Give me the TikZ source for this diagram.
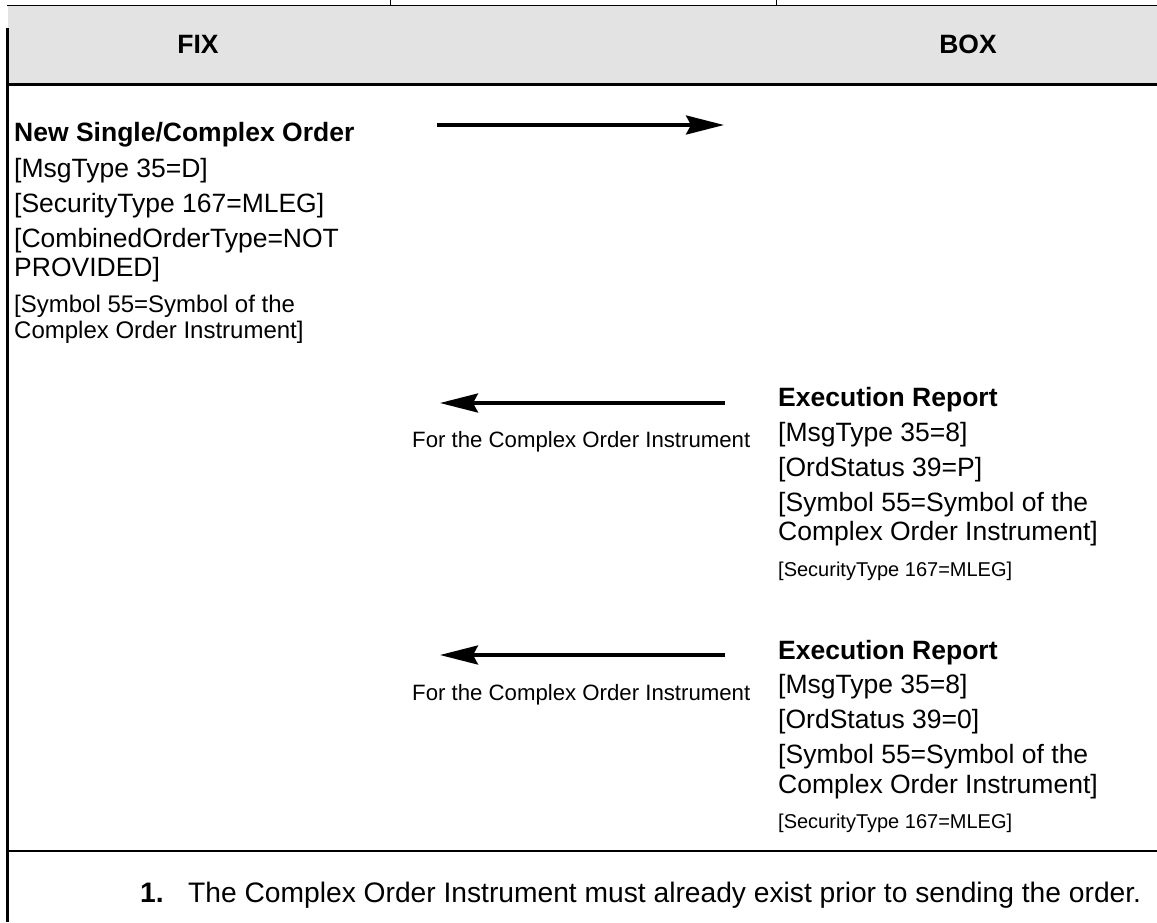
\documentclass[tikz,border=0pt]{standalone}
\usepackage{fontspec}
\setmainfont{Liberation Sans}
\usetikzlibrary{arrows.meta}
\definecolor{hdrgray}{HTML}{E3E3E3}
\begin{document}
\begin{tikzpicture}[x=1pt,y=-1pt,
  txt/.style={anchor=base west, inner sep=0pt, font=\fontsize{26.5}{30}\selectfont},
  txtb/.style={txt, font=\fontsize{26.5}{30}\selectfont\bfseries},
  txtm/.style={txt, font=\fontsize{24}{27}\selectfont},
  txts/.style={txt, font=\fontsize{20}{23}\selectfont},
  note/.style={anchor=base west, inner sep=0pt, font=\fontsize{22.2}{25}\selectfont},
  fnote/.style={anchor=base west, inner sep=0pt, font=\fontsize{28.2}{32}\selectfont},
  hdr/.style={anchor=base, inner sep=0pt, font=\fontsize{26.5}{30}\selectfont\bfseries},
  msgarrow/.style={line width=3.5pt, -{Stealth[length=38pt,width=19pt,inset=5pt]}},
  rule/.style={line width=2.3pt},
]
\useasboundingbox (0,0) rectangle (1157,922);
% header
\fill[hdrgray] (8,5.5) rectangle (1157,84);
\draw[line width=1.3pt] (7,5.5) -- (1157,5.5);
\draw[line width=0.6pt] (390,0) -- (390,5.5);
\draw[line width=0.6pt] (776,0) -- (776,5.5);
\draw[rule] (7.5,28) -- (7.5,922);
\draw[line width=2.8pt] (6.5,84.5) -- (1157,84.5);
\draw[rule] (6.5,851) -- (1157,851);
\node[hdr] (fix) at (198,53) {FIX};
\node[hdr] (box) at (968,53) {BOX};
% left block
\node[txtb] (nso) at (14,141) {New Single/Complex Order};
\node[txt] (l1) at (14,177) {[MsgType 35=D]};
\node[txt] (l2) at (14,212) {[SecurityType 167=MLEG]};
\node[txt] (l3) at (14,247) {[CombinedOrderType=NOT};
\node[txt] (l4) at (14,276) {PROVIDED]};
\node[txtm] (l5) at (14,312) {[Symbol 55=Symbol of the};
\node[txtm] (l6) at (14,338) {Complex Order Instrument]};
% arrow 1
\coordinate (a1s) at (437,125);
\coordinate (a1e) at (724,125);
\draw[msgarrow] (a1s) -- (a1e);
% first execution report
\node[txtb] (er1) at (778,406) {Execution Report};
\node[txt] (r1a) at (778,441) {[MsgType 35=8]};
\node[txt] (r1b) at (778,476) {[OrdStatus 39=P]};
\node[txt] (r1c) at (778,511) {[Symbol 55=Symbol of the};
\node[txt] (r1d) at (778,540) {Complex Order Instrument]};
\node[txts] (r1e) at (778,576) {[SecurityType 167=MLEG]};
\coordinate (a2s) at (725,403);
\coordinate (a2e) at (440,403);
\draw[msgarrow] (a2s) -- (a2e);
\node[note] (n1) at (412,447) {For the Complex Order Instrument};
% second execution report
\node[txtb] (er2) at (778,659) {Execution Report};
\node[txt] (r2a) at (778,693) {[MsgType 35=8]};
\node[txt] (r2b) at (778,728) {[OrdStatus 39=0]};
\node[txt] (r2c) at (778,763) {[Symbol 55=Symbol of the};
\node[txt] (r2d) at (778,793) {Complex Order Instrument]};
\node[txts] (r2e) at (778,828) {[SecurityType 167=MLEG]};
\coordinate (a3s) at (725,655);
\coordinate (a3e) at (440,655);
\draw[msgarrow] (a3s) -- (a3e);
\node[note] (n2) at (412,700) {For the Complex Order Instrument};
% footnote
\node[fnote, font=\fontsize{28.2}{32}\selectfont\bfseries] (fn) at (140,902) {1.};
\node[fnote] (ft) at (188,902) {The Complex Order Instrument must already exist prior to sending the order.};
\end{tikzpicture}
\end{document}
